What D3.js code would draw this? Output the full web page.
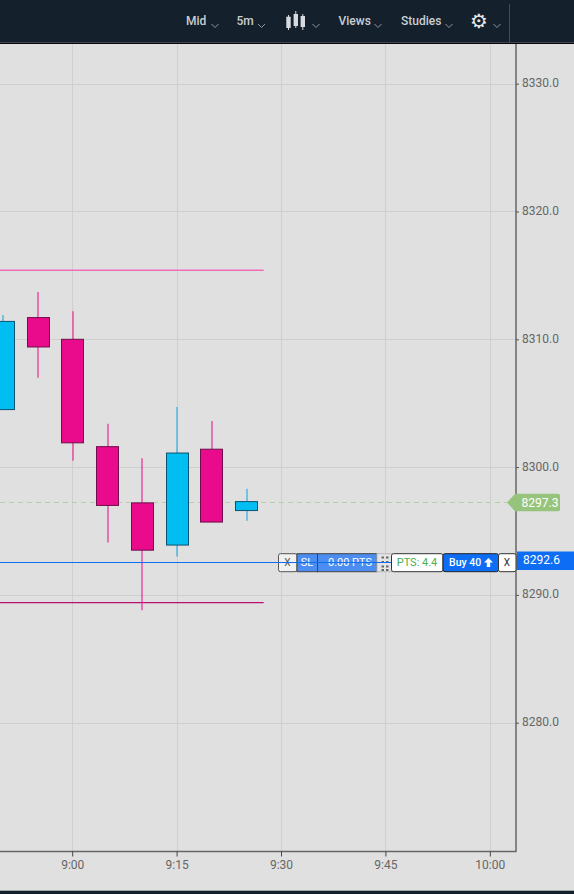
<!DOCTYPE html>
<html><head><meta charset="utf-8">
<script src="https://cdn.jsdelivr.net/npm/d3@7"></script>
<style>html,body{margin:0;padding:0;background:#e0e0e0;overflow:hidden}svg{display:block}text{font-family:Roboto,sans-serif}</style>
</head><body><div id="c"></div>
<script>
const candleTimes=["8:50","8:55","9:00","9:05","9:10","9:15","9:20","9:25"];
const opens =[8304.5,8311.7,8310.0,8301.6,8297.2,8293.9,8301.4,8296.6];
const closes=[8311.4,8309.4,8301.9,8297.0,8293.5,8301.1,8295.7,8297.3];
const highs =[8311.9,8313.7,8312.2,8303.4,8300.7,8304.7,8303.6,8298.3];
const lows  =[8304.5,8307.0,8300.5,8294.1,8288.8,8293.0,8295.7,8295.8];
const priceTicks=[8330,8320,8310,8300,8290,8280];
const timeTicks=["9:00","9:15","9:30","9:45","10:00"];
const levelUpper=8315.4, levelLower=8289.4, levelEnd="9:27:30";
const lastPrice=8297.3, orderPrice=8292.6;
const menuItems=["Mid","5m","Views","Studies"];

const W=574,H=894;
const parse=s=>{const p=s.split(":").map(Number);return new Date(2020,0,1,p[0],p[1],p[2]||0);};
const x=d3.scaleTime().domain([parse("9:00"),parse("10:00")]).range([72.2,489.8]);
const y=d3.scaleLinear().domain([8280,8330]).range([722.7,83.7]);
const plotR=516,plotT=44,plotB=851.5;
const svg=d3.select("#c").append("svg").attr("width",W).attr("height",H);
svg.append("rect").attr("width",W).attr("height",H).attr("fill","#e0e0e0");

// grid
const grid=svg.append("g").attr("stroke","#cfcfcf").attr("stroke-width",1);
grid.selectAll(".h").data(priceTicks).join("line").attr("x1",0).attr("x2",plotR).attr("y1",d=>Math.round(y(d))+.5).attr("y2",d=>Math.round(y(d))+.5);
grid.selectAll(".v").data(timeTicks).join("line").attr("y1",plotT).attr("y2",plotB).attr("x1",d=>Math.round(x(parse(d)))+.5).attr("x2",d=>Math.round(x(parse(d)))+.5);

// levels
svg.append("line").attr("x1",0).attr("x2",x(parse(levelEnd))).attr("y1",y(levelUpper)).attr("y2",y(levelUpper)).attr("stroke","#f06cb8").attr("stroke-width",1.4);
svg.append("line").attr("x1",0).attr("x2",x(parse(levelEnd))).attr("y1",y(levelLower)).attr("y2",y(levelLower)).attr("stroke","#b5106f").attr("stroke-width",1.2);
svg.append("line").attr("x1",0).attr("x2",plotR).attr("y1",Math.round(y(lastPrice))+.5).attr("y2",Math.round(y(lastPrice))+.5).attr("stroke","#b7cfa6").attr("stroke-dasharray","5 4");

// candles
const bw=22;
const cx=t=>x(parse(t))+.6;
const cd=candleTimes.map((t,i)=>({t,o:opens[i],c:closes[i],h:highs[i],l:lows[i],up:closes[i]>=opens[i]}));
const g=svg.append("g");
g.selectAll(".w").data(cd).join("line").attr("x1",d=>Math.round(cx(d.t))).attr("x2",d=>Math.round(cx(d.t))).attr("y1",d=>y(d.h)).attr("y2",d=>y(d.l)).attr("stroke",d=>d.up?"#1fa8de":"#ea1a90").attr("stroke-width",1.1);
g.selectAll(".b").data(cd).join("rect").attr("x",d=>Math.floor(cx(d.t)-bw/2)+.5).attr("width",bw).attr("y",d=>y(Math.max(d.o,d.c))).attr("height",d=>Math.abs(y(d.o)-y(d.c)))
 .attr("fill",d=>d.up?"#00bdf2":"#ea0a8c").attr("stroke",d=>d.up?"#0d5170":"#6c0f4c").attr("stroke-width",1);

// axes
svg.append("line").attr("x1",0).attr("x2",plotR+.5).attr("y1",plotB).attr("y2",plotB).attr("stroke","#666").attr("stroke-width",1.5);
svg.append("line").attr("x1",plotR).attr("x2",plotR).attr("y1",plotT).attr("y2",plotB).attr("stroke","#666").attr("stroke-width",1.5);
const ya=svg.append("g").attr("transform",`translate(${plotR},0)`).call(d3.axisRight(y).tickValues(priceTicks).tickFormat(d3.format(".1f")).tickSize(3).tickPadding(3));
ya.select(".domain").remove();
ya.selectAll("text").attr("font-size",12).attr("fill","#666").attr("dy","0.25em").style("font-family","Roboto");
ya.selectAll("line").attr("stroke","#555");
const xa=svg.append("g").attr("transform",`translate(0,${plotB})`).call(d3.axisBottom(x).tickValues(timeTicks.map(parse)).tickFormat(d3.timeFormat("%-H:%M")).tickSize(5).tickPadding(4));
xa.select(".domain").remove();
xa.selectAll("text").attr("font-size",12).attr("fill","#666").style("font-family","Roboto");
xa.selectAll("line").attr("stroke","#444");

// last price flag
const lp=Math.round(y(lastPrice))+.5;
svg.append("path").attr("d",`M507,${lp} L515,${lp-8.8} H558 Q560,${lp-8.8} 560,${lp-6.8} V${lp+6.8} Q560,${lp+8.8} 558,${lp+8.8} H515 Z`).attr("fill","#97c47c");
svg.append("text").attr("x",521.5).attr("y",lp+4.5).attr("font-size",12).attr("fill","#fff").text(d3.format(".1f")(lastPrice));

// order bar
const oy=Math.round(y(orderPrice))+.5, bt=oy-8.8, bh=18;
function box(x0,x1,fill,stroke,r){return svg.append("rect").attr("x",x0).attr("y",bt).attr("width",x1-x0).attr("height",bh).attr("fill",fill).attr("stroke",stroke).attr("stroke-width",1).attr("rx",r||0);}
function lab(tx,txt,fill,size,anchor,w){return svg.append("text").attr("x",tx).attr("y",oy+3.8).attr("font-size",size).attr("fill",fill).attr("text-anchor",anchor||"middle").attr("font-weight",w||400).text(txt);}
box(278.5,297,"#f1f1f1","#555",2);
lab(287.5,"X","#555",10);
box(297,317.5,"#4b8df0","#444");
lab(307,"SL","#fff",11);
box(317.5,377,"#4b8df0","#444");
lab(348.5,"-0.00 PTS","#fff",11);
box(377,391.5,"#e4e4e4","#bbb");
const gx=[381.5,386],gy=[-6,-1.5,3,6.5];
gx.forEach(a=>gy.forEach(b=>svg.append("rect").attr("x",a).attr("y",oy+b).attr("width",2.5).attr("height",2).attr("fill","#666")));
svg.append("line").attr("x1",0).attr("x2",391).attr("y1",oy).attr("y2",oy).attr("stroke","#0f6ef0").attr("stroke-width",1);
box(391.5,443,"#fff","#333",2);
lab(417,"PTS: 4.4","#4caf50",11);
box(443,498.5,"#0d6ef5","#222",2);
lab(449,"Buy 40","#fff",10.5,"start",500);
svg.append("path").attr("d","M488.5,558 l4.5,4.5 h-2.8 v4.5 h-3.4 v-4.5 h-2.8 Z").attr("fill","#fff");
box(498.5,516,"#fff","#333",2);
lab(507,"X","#333",10);
svg.append("rect").attr("x",517).attr("y",551.5).attr("width",57).attr("height",18.5).attr("fill","#0d6ef5");
svg.append("text").attr("x",523).attr("y",oy+1.5).attr("font-size",12).attr("fill","#fff").text(d3.format(".1f")(orderPrice));

// header
svg.append("rect").attr("width",W).attr("height",42.5).attr("fill","#14202c");
svg.append("rect").attr("y",42.5).attr("width",W).attr("height",1.5).attr("fill","#05080c");
svg.append("rect").attr("y",890.7).attr("width",W).attr("height",3.3).attr("fill","#14202c");
svg.append("line").attr("x1",509.5).attr("x2",509.5).attr("y1",4).attr("y2",42).attr("stroke","#3b4d63");
const menuX=[186,236.5,338.5,401];
const chevX=[215,261.5,378,449,316,497];
menuItems.forEach((m,i)=>svg.append("text").attr("x",menuX[i]).attr("y",25).attr("font-size",12).attr("font-weight",500).attr("fill","#c9ced3").text(m));
chevX.forEach(c=>svg.append("path").attr("d",`M${c-3.5},24 L${c},27.5 L${c+3.5},24`).attr("fill","none").attr("stroke","#8f979f").attr("stroke-width",1));
// candle icon
[[288.5,16.7,11.3,15,30],[295.8,14,12,11,28],[302.8,16,11,14,30]].forEach(([c,top,h,w0,w1])=>{
  svg.append("line").attr("x1",c).attr("x2",c).attr("y1",w0).attr("y2",w1).attr("stroke","#d7dade");
  svg.append("rect").attr("x",c-2.2).attr("y",top).attr("width",4.4).attr("height",h).attr("fill","#d7dade");
});
svg.append("text").attr("x",479).attr("y",27.5).attr("font-size",20).attr("text-anchor","middle").attr("fill","#e6e8ea").style("font-family","DejaVu Sans").text("\u2699");
</script></body></html>
